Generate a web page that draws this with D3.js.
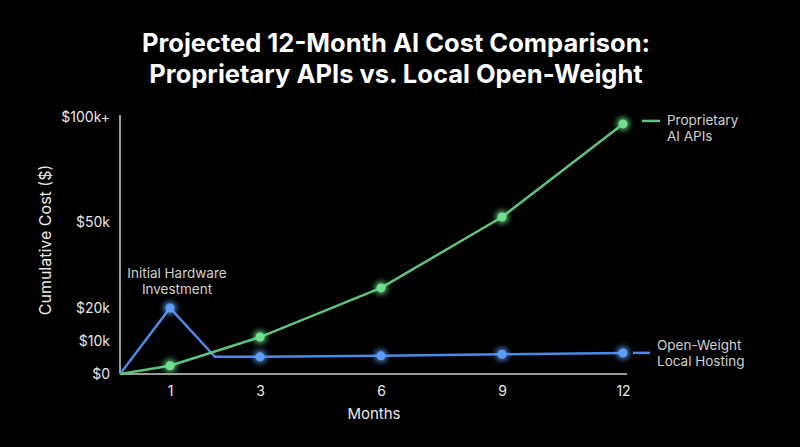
<!DOCTYPE html>
<html><head><meta charset="utf-8">
<script src="https://cdn.jsdelivr.net/npm/d3@7"></script>
<style>
html,body{margin:0;padding:0;background:#000;}
svg{display:block;font-family:Inter,"Noto Sans",sans-serif;}
</style></head>
<body>
<svg id="chart" width="800" height="447"></svg>
<script>
const months = [0, 1, 2, 3, 6, 9, 12];
const xTickValues = [1, 3, 6, 9, 12];
const proprietaryMonths = [0, 1, 3, 6, 9, 12];
const proprietaryCost = [0, 2500, 11200, 27000, 52400, 96700];
const localMonths = [0, 1, 2, 3, 6, 9, 12];
const localCost = [0, 20000, 5200, 5200, 5500, 6000, 6400];
const localMarkerMonths = [1, 3, 6, 9, 12];
const yTickValues = [0, 10000, 20000, 50000, 100000];
const yTickLabels = ["$0", "$10k", "$20k", "$50k", "$100k+"];
const titleLines = ["Projected 12-Month AI Cost Comparison:", "Proprietary APIs vs. Local Open-Weight"];

const svg = d3.select("#chart");
const green = "#5cc47c", greenDot = "#6fe08e";
const blue = "#4b8ae6", blueDot = "#5d9df5";
const axisCol = "#cfcfcf";

const defs = svg.append("defs");
const f = defs.append("filter").attr("id","glow").attr("x","-200%").attr("y","-200%").attr("width","500%").attr("height","500%");
f.append("feGaussianBlur").attr("in","SourceGraphic").attr("stdDeviation",3.5).attr("result","b");
const m = f.append("feMerge");
m.append("feMergeNode").attr("in","b");
m.append("feMergeNode").attr("in","b");
m.append("feMergeNode").attr("in","SourceGraphic");

// piecewise scales as in the reference
const x = d3.scaleLinear().domain([0, 1, 3, 12]).range([120, 170, 260, 623]);
const y = d3.scaleLinear().domain([0, 10000, 20000, 50000, 100000]).range([374, 341, 308, 222, 117]);

// title
svg.append("g").selectAll("text").data(titleLines).join("text")
  .attr("x", 396).attr("y", (d,i)=>52 + i*31)
  .attr("text-anchor","middle").attr("fill","#fff")
  .attr("font-size", 25.5).attr("font-weight", 700)
  .text(d=>d);

// axes
const xAxis = d3.axisBottom(x).tickValues(xTickValues).tickSize(0).tickPadding(12).tickFormat(d3.format("d"));
const gx = svg.append("g").attr("transform","translate(0,374)").call(xAxis);
gx.select(".domain").attr("d", `M${x(0)},0H627`).attr("stroke", axisCol).attr("stroke-width",1.5);
gx.selectAll("text").attr("fill","#e8e8e8").attr("font-size",14).attr("font-family","Inter,sans-serif");

const yAxis = d3.axisLeft(y).tickValues(yTickValues).tickSize(0).tickPadding(10)
  .tickFormat((d,i)=>yTickLabels[i]);
const gy = svg.append("g").attr("transform","translate(120,0)").call(yAxis);
gy.select(".domain").attr("d", `M0,${y(0)}V115`).attr("stroke", axisCol).attr("stroke-width",1.5);
gy.selectAll("text").attr("fill","#e8e8e8").attr("font-size",14).attr("font-family","Inter,sans-serif");

svg.append("text").attr("x",374).attr("y",419).attr("text-anchor","middle")
  .attr("fill","#e8e8e8").attr("font-size",15).text("Months");
svg.append("text").attr("transform","translate(51,240) rotate(-90)").attr("text-anchor","middle")
  .attr("fill","#e8e8e8").attr("font-size",16).text("Cumulative Cost ($)");

// lines
const line = d3.line().x(d=>x(d[0])).y(d=>y(d[1]));
const propData = proprietaryMonths.map((mm,i)=>[mm, proprietaryCost[i]]);
const localData = localMonths.map((mm,i)=>[mm, localCost[i]]);

svg.append("path").datum(localData).attr("d", line).attr("fill","none")
  .attr("stroke", blue).attr("stroke-width", 2.5).attr("stroke-linejoin","miter");
svg.append("path").datum(propData).attr("d", line).attr("fill","none")
  .attr("stroke", green).attr("stroke-width", 2.5);

// markers
svg.append("g").selectAll("circle").data(localData.filter(d=>localMarkerMonths.includes(d[0]))).join("circle")
  .attr("cx", d=>x(d[0])).attr("cy", d=>y(d[1])).attr("r", 4.5)
  .attr("fill", blueDot).attr("filter","url(#glow)");
svg.append("g").selectAll("circle").data(propData.filter(d=>d[0]>0)).join("circle")
  .attr("cx", d=>x(d[0])).attr("cy", d=>y(d[1])).attr("r", 4.5)
  .attr("fill", greenDot).attr("filter","url(#glow)");

// annotation
svg.append("g").selectAll("text").data(["Initial Hardware","Investment"]).join("text")
  .attr("x", 177).attr("y", (d,i)=>278 + i*16).attr("text-anchor","middle")
  .attr("fill","#d0d0d0").attr("font-size",13.5).text(d=>d);

// end labels
const lastProp = propData[propData.length-1];
const lastLocal = localData[localData.length-1];
svg.append("line").attr("x1", x(lastProp[0])+19).attr("x2", x(lastProp[0])+37)
  .attr("y1", y(lastProp[1])-3).attr("y2", y(lastProp[1])-3).attr("stroke", green).attr("stroke-width",2.5);
svg.append("g").selectAll("text").data(["Proprietary","AI APIs"]).join("text")
  .attr("x", x(lastProp[0])+44).attr("y",(d,i)=>y(lastProp[1]) + 1 + i*16)
  .attr("fill","#d0d0d0").attr("font-size",13.5).text(d=>d);
svg.append("line").attr("x1", x(lastLocal[0])+10).attr("x2", x(lastLocal[0])+27)
  .attr("y1", y(lastLocal[1])).attr("y2", y(lastLocal[1])).attr("stroke", blue).attr("stroke-width",2.5);
svg.append("g").selectAll("text").data(["Open-Weight","Local Hosting"]).join("text")
  .attr("x", x(lastLocal[0])+34).attr("y",(d,i)=>y(lastLocal[1]) - 3 + i*16)
  .attr("fill","#d0d0d0").attr("font-size",13.5).text(d=>d);
</script>
</body></html>
